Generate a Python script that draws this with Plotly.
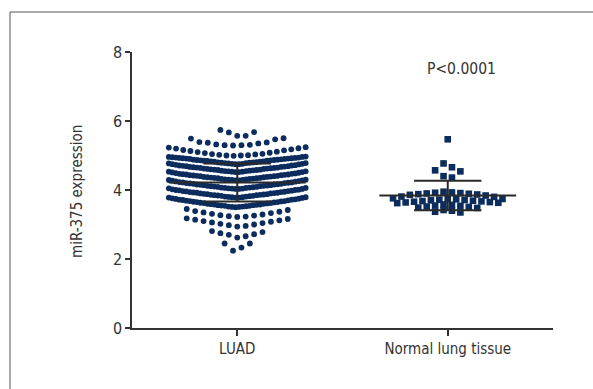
import plotly.graph_objects as go

# ---------------- data ----------------
categories = ["LUAD", "Normal lung tissue"]

# LUAD values, grouped in the horizontal rows seen in the dot plot (top to bottom)
luad_row_top = [5.57, 5.57, 5.67, 5.68, 5.74]
luad_row_2 = [5.29, 5.30, 5.30, 5.31, 5.32, 5.35, 5.37, 5.38, 5.39, 5.47, 5.49, 5.50]
luad_row_3 = [4.99, 5.00, 5.00, 5.01, 5.02, 5.03, 5.04, 5.05, 5.07, 5.08,
              5.10, 5.11, 5.13, 5.15, 5.16, 5.18, 5.20, 5.21, 5.23, 5.24]
luad_band_1 = [4.75, 4.75, 4.76, 4.76, 4.77, 4.78, 4.78, 4.79, 4.79, 4.80,
               4.80, 4.81, 4.82, 4.82, 4.83, 4.83, 4.84, 4.85, 4.85, 4.86,
               4.86, 4.87, 4.87, 4.88, 4.88, 4.89, 4.90, 4.90, 4.91, 4.91,
               4.92, 4.92, 4.93, 4.93, 4.94, 4.94, 4.95, 4.96, 4.96, 4.97]
luad_band_2 = [4.52, 4.52, 4.53, 4.53, 4.54, 4.55, 4.55, 4.56, 4.56, 4.57,
               4.58, 4.58, 4.59, 4.59, 4.60, 4.61, 4.61, 4.62, 4.62, 4.63,
               4.64, 4.64, 4.65, 4.65, 4.66, 4.67, 4.67, 4.68, 4.69, 4.69,
               4.70, 4.71, 4.71, 4.72, 4.73, 4.74, 4.75, 4.76, 4.77, 4.78]
luad_band_3 = [4.28, 4.28, 4.29, 4.29, 4.30, 4.31, 4.31, 4.32, 4.32, 4.33,
               4.34, 4.34, 4.35, 4.35, 4.36, 4.37, 4.37, 4.38, 4.38, 4.39,
               4.40, 4.40, 4.41, 4.41, 4.42, 4.43, 4.43, 4.44, 4.45, 4.45,
               4.46, 4.47, 4.47, 4.48, 4.49, 4.50, 4.51, 4.52, 4.53, 4.54]
luad_band_4 = [4.03, 4.03, 4.04, 4.04, 4.05, 4.06, 4.06, 4.07, 4.07, 4.08,
               4.09, 4.09, 4.10, 4.11, 4.11, 4.12, 4.12, 4.13, 4.14, 4.14,
               4.15, 4.16, 4.16, 4.17, 4.18, 4.18, 4.19, 4.20, 4.20, 4.21,
               4.22, 4.22, 4.23, 4.24, 4.25, 4.26, 4.27, 4.28, 4.29, 4.30]
luad_band_5 = [3.78, 3.78, 3.79, 3.79, 3.80, 3.81, 3.81, 3.82, 3.83, 3.83,
               3.84, 3.85, 3.85, 3.86, 3.86, 3.87, 3.88, 3.88, 3.89, 3.90,
               3.90, 3.91, 3.92, 3.92, 3.93, 3.94, 3.94, 3.95, 3.96, 3.97,
               3.97, 3.98, 3.99, 4.00, 4.00, 4.01, 4.02, 4.03, 4.05, 4.06]
luad_band_6 = [3.50, 3.51, 3.51, 3.52, 3.52, 3.53, 3.54, 3.54, 3.55, 3.56,
               3.56, 3.57, 3.58, 3.58, 3.59, 3.60, 3.60, 3.61, 3.62, 3.62,
               3.63, 3.64, 3.65, 3.65, 3.66, 3.67, 3.68, 3.68, 3.69, 3.70,
               3.71, 3.72, 3.72, 3.73, 3.74, 3.75, 3.76, 3.77, 3.78, 3.79]
luad_row_low_1 = [3.22, 3.23, 3.24, 3.26, 3.27, 3.29, 3.31, 3.33, 3.35, 3.37, 3.39, 3.42, 3.45]
luad_row_low_2 = [2.94, 2.96, 2.98, 3.00, 3.02, 3.04, 3.06, 3.08, 3.10, 3.12, 3.14, 3.16, 3.18]
luad_row_low_3 = [2.62, 2.66, 2.70, 2.72, 2.75, 2.78, 2.81]
luad_row_low_4 = [2.24, 2.33, 2.45, 2.45]

luad_rows = [luad_row_top, luad_row_2, luad_row_3, luad_band_1, luad_band_2,
             luad_band_3, luad_band_4, luad_band_5, luad_band_6,
             luad_row_low_1, luad_row_low_2, luad_row_low_3, luad_row_low_4]

# Normal lung tissue values, grouped by row
normal_row_1 = [5.47]
normal_row_2 = [4.54, 4.57, 4.66, 4.77]
normal_row_3 = [4.36, 4.40]
normal_row_4 = [3.74, 3.76, 3.80, 3.81, 3.84, 3.86, 3.87, 3.88, 3.89, 3.90, 3.91, 3.92, 3.93, 3.95]
normal_row_5 = [3.62, 3.63, 3.64, 3.65, 3.66, 3.67, 3.68, 3.69, 3.70, 3.71, 3.72, 3.73, 3.74]
normal_row_6 = [3.48, 3.49, 3.51, 3.52, 3.54, 3.55, 3.57, 3.58]
normal_row_7 = [3.35, 3.37, 3.40, 3.42]
normal_rows = [normal_row_1, normal_row_2, normal_row_3, normal_row_4,
               normal_row_5, normal_row_6, normal_row_7]

# mean and SD as drawn
group_mean = [4.22, 3.84]
group_sd = [0.55, 0.43]

p_text = "P<0.0001"
y_ticks = [0, 2, 4, 6, 8]

# ---------------- layout helpers ----------------
BASE_STEP = 0.040   # horizontal spacing between dots (x units)
MAX_HALF = 0.325    # half width of the dot rows
MEAN_HALF = 0.325
CAP_HALF = 0.16


def swarm(rows, center, descending=False):
    xs, ys = [], []
    for row in rows:
        vals = sorted(row, reverse=descending)
        n = len(vals)
        step = min(BASE_STEP, 2 * MAX_HALF / (n - 1)) if n > 1 else 0.0
        if n % 2:
            slots = [0]
            for k in range(1, n // 2 + 1):
                slots += [k, -k]
        else:
            slots = []
            for k in range(n // 2):
                slots += [-(k + 0.5), k + 0.5]
        for v, s in zip(vals, slots):
            xs.append(center + s * step)
            ys.append(v)
    return xs, ys


NAVY = "#0b2c5c"
LINE = "#2a2a2a"
AXC = "#333333"
FONT = "DejaVu Sans Condensed, Liberation Sans Narrow, Arial Narrow, sans-serif"

fig = go.Figure()

lx, ly = swarm(luad_rows, 0)
fig.add_trace(go.Scatter(x=lx, y=ly, mode="markers",
                         marker=dict(symbol="circle", size=5.8, color=NAVY, line=dict(width=0)),
                         hoverinfo="skip", showlegend=False))
nx, ny = swarm(normal_rows, 1, descending=True)
fig.add_trace(go.Scatter(x=nx, y=ny, mode="markers",
                         marker=dict(symbol="square", size=6.6, color=NAVY, line=dict(width=0)),
                         hoverinfo="skip", showlegend=False))

for i, (m, sd) in enumerate(zip(group_mean, group_sd)):
    ex = [i - MEAN_HALF, i + MEAN_HALF, None,
          i, i, None,
          i - CAP_HALF, i + CAP_HALF, None,
          i - CAP_HALF, i + CAP_HALF]
    ey = [m, m, None,
          m - sd, m + sd, None,
          m + sd, m + sd, None,
          m - sd, m - sd]
    fig.add_trace(go.Scatter(x=ex, y=ey, mode="lines",
                             line=dict(color=LINE, width=2),
                             hoverinfo="skip", showlegend=False))

# plot area in pixels: x 132..553, y 52..328
W, H = 593, 389
L, R, T, B = 132, 40, 52, 61
pw, ph = W - L - R, H - T - B

fig.update_layout(
    width=W, height=H,
    margin=dict(l=L, r=R, t=T, b=B),
    paper_bgcolor="white", plot_bgcolor="white",
    font=dict(family=FONT, size=15, color=AXC),
    xaxis=dict(range=[-0.5, 1.5], tickvals=[0, 1], ticktext=categories,
               showline=True, linecolor=AXC, linewidth=1.5,
               ticks="outside", ticklen=6, tickwidth=1.5, tickcolor=AXC,
               showgrid=False, zeroline=False, fixedrange=True,
               tickfont=dict(family=FONT, size=15, color=AXC)),
    yaxis=dict(range=[0, 8], tickvals=y_ticks,
               showline=True, linecolor=AXC, linewidth=1.5,
               ticks="outside", ticklen=5, tickwidth=1.5, tickcolor=AXC,
               showgrid=False, zeroline=False, fixedrange=True,
               tickfont=dict(family=FONT, size=16, color=AXC)),
    shapes=[dict(type="rect", xref="paper", yref="paper",
                 x0=(10 - L) / pw, x1=(W + 20 - L) / pw,
                 y0=-(H + 20 - T - ph) / ph, y1=1 + (T - 12) / ph,
                 line=dict(color="#555555", width=1), fillcolor="rgba(0,0,0,0)",
                 layer="below")],
    annotations=[
        dict(text=p_text, xref="paper", yref="paper",
             x=(461 - L) / pw, y=1 - (69 - T) / ph,
             xanchor="center", yanchor="middle", showarrow=False,
             font=dict(family=FONT, size=15.5, color=AXC)),
        dict(text="miR-375 expression", xref="paper", yref="paper",
             x=(77 - L) / pw, y=1 - (192 - T) / ph, textangle=-90,
             xanchor="center", yanchor="middle", showarrow=False,
             font=dict(family=FONT, size=15, color=AXC)),
    ],
)

fig.write_html("out.html", config={"displayModeBar": False})
